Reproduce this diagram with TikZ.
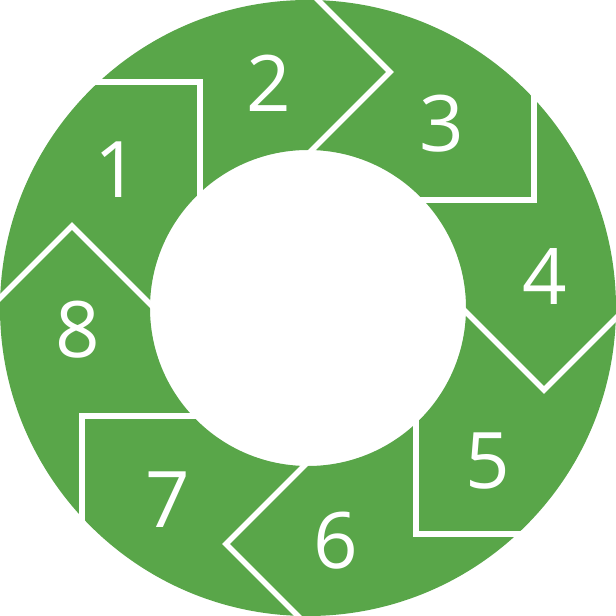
\documentclass[tikz,border=0pt]{standalone}
\usepackage{fontspec}
\setmainfont{Open Sans}
\usepackage{xcolor}
\usepackage{tikz}
\usetikzlibrary{calc}
\definecolor{ringgreen}{RGB}{89,166,73}
\tikzset{
    ring/.style={fill=ringgreen, even odd rule},
    divider/.style={draw=white, line width=5.5pt, line join=miter},
    num/.style={text=white, inner sep=0pt, font=\fontsize{78}{78}\selectfont}
}

\begin{document}
\begin{tikzpicture}[x=1pt, y=1pt]
    \useasboundingbox (-308,-308) rectangle (308,308);
    \fill[ring] (0,0) circle (308) (0,0) circle (158);

    % chevrons and box corners, four times round
    \foreach \a in {0,90,180,270} {
        \begin{scope}[rotate=-\a]
            \coordinate (tip) at (-236,82);
            \coordinate (corner) at (-108,226);
            \draw[divider] ($(tip)+(-90,-90)$) -- (tip) -- ($(tip)+(90,-90)$);
            \draw[divider] ($(corner)+(-140,0)$) -- (corner) -- ($(corner)+(0,-140)$);
        \end{scope}
    }

    \node (n1) [num] at (-191,138) {1};
    \node (n2) [num] at (-39,225) {2};
    \node (n3) [num] at (134,184) {3};
    \node (n4) [num] at (237,31) {4};
    \node (n5) [num] at (180,-153) {5};
    \node (n6) [num] at (28,-233) {6};
    \node (n7) [num] at (-140,-192) {7};
    \node (n8) [num] at (-230,-22) {8};
\end{tikzpicture}
\end{document}
